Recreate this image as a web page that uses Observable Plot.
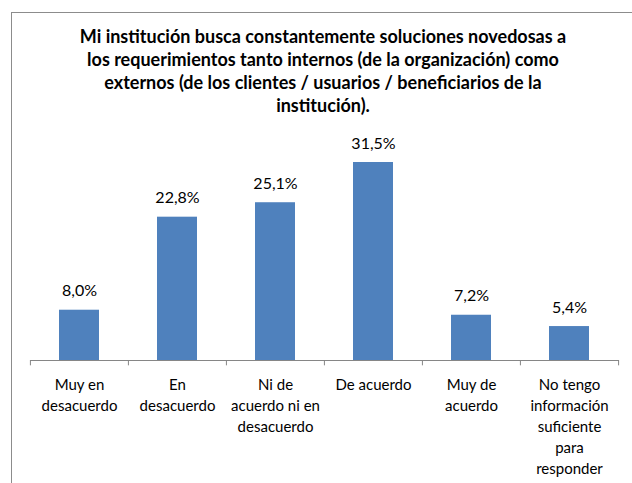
<!DOCTYPE html>
<html>
<head>
<meta charset="utf-8">
<script src="https://cdn.jsdelivr.net/npm/d3@7"></script>
<script src="https://cdn.jsdelivr.net/npm/@observablehq/plot@0.6"></script>
<style>
  html, body { margin: 0; padding: 0; background: #fff; width: 632px; height: 483px; overflow: hidden; }
  #frame { position: absolute; left: 11px; top: 12px; width: 700px; height: 600px; border: 1px solid #8c8c8c; box-sizing: border-box; }
  #title { position: absolute; left: 0; width: 646px; top: 25px; text-align: center; font-family: Lato, sans-serif; font-weight: bold; font-size: 18px; line-height: 23px; color: #000; }
  #chart { position: absolute; left: 0; top: 120px; }
</style>
</head>
<body>
<div id="frame"></div>
<div id="title">Mi institución busca constantemente soluciones novedosas a<br>los requerimientos tanto internos (de la organización) como<br>externos (de los clientes / usuarios / beneficiarios de la<br>institución).</div>
<div id="chart"></div>
<script>
const categories = ["Muy en desacuerdo", "En desacuerdo", "Ni de acuerdo ni en desacuerdo", "De acuerdo", "Muy de acuerdo", "No tengo información suficiente para responder"];
const values = [8.0, 22.8, 25.1, 31.5, 7.2, 5.4];
const tickLabels = ["Muy en\ndesacuerdo", "En\ndesacuerdo", "Ni de\nacuerdo ni en\ndesacuerdo", "De acuerdo", "Muy de\nacuerdo", "No tengo\ninformación\nsuficiente\npara\nresponder"];

const data = categories.map((c, i) => ({category: c, value: values[i], label: tickLabels[i]}));
const W = 632, marginLeft = 30, marginRight = 13;
const step = (W - marginLeft - marginRight) / categories.length;
const fmt = v => v.toFixed(1).replace(".", ",") + "%";

const chart = Plot.plot({
  width: W,
  height: 363,
  marginTop: 20,
  marginBottom: 123,
  marginLeft,
  marginRight,
  style: {fontFamily: "Lato, sans-serif", fontSize: "15px", color: "#000", background: "transparent"},
  x: {domain: categories, paddingInner: 0.59, paddingOuter: 0.295, axis: null},
  y: {domain: [0, 35], axis: null},
  marks: [
    Plot.barY(data, {x: "category", y: "value", fill: "#4f81bd"}),
    Plot.ruleY([0], {stroke: "#868686", strokeWidth: 1}),
    Plot.ruleX(categories, {x: d => d, dx: -step / 2, y1: 0, y2: -0.85, stroke: "#868686"}),
    Plot.ruleX(categories.slice(-1), {x: d => d, dx: step / 2, y1: 0, y2: -0.85, stroke: "#868686"}),
    Plot.text(data, {x: "category", y: "value", text: d => fmt(d.value), dy: -19, fill: "#000", fontSize: 16}),
    Plot.text(data, {x: "category", y: 0, text: "label", dy: 15, lineAnchor: "top", lineHeight: 1.4, fill: "#000", fontSize: 15})
  ]
});
document.getElementById("chart").appendChild(chart);
</script>
</body>
</html>
